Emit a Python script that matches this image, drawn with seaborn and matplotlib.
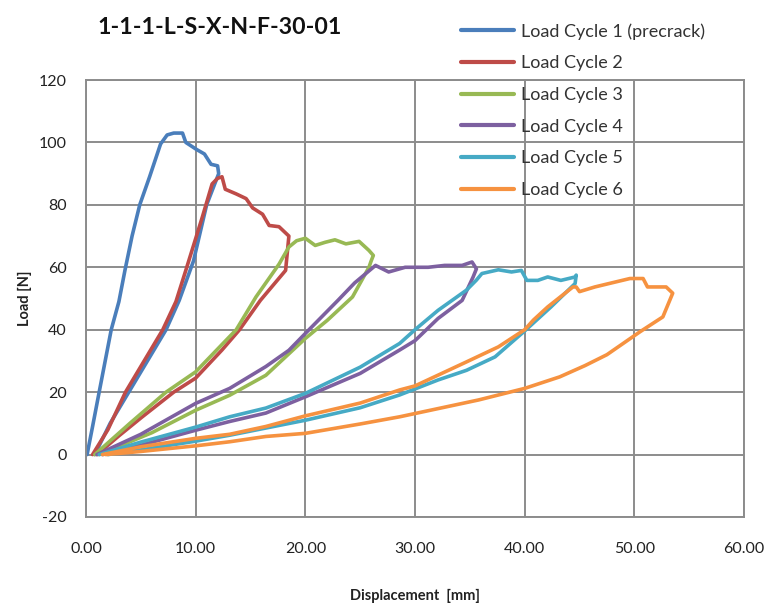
import matplotlib
matplotlib.use("Agg")
import matplotlib.pyplot as plt
import seaborn as sns
import pandas as pd

title = "1-1-1-L-S-X-N-F-30-01"
labels = ["Load Cycle 1 (precrack)", "Load Cycle 2", "Load Cycle 3",
          "Load Cycle 4", "Load Cycle 5", "Load Cycle 6"]
colors = ["#4A7EBB", "#BE4B48", "#98B954", "#7D60A0", "#46AAC5", "#F69240"]

c1_x = [0.1, 0.6, 1.2, 2.3, 3.0, 3.55, 4.2, 4.9, 5.8, 6.8, 7.4, 8.0, 8.8, 9.1, 10.1, 10.8, 11.4, 12.0,
        12.1, 11.0, 9.8, 8.5, 7.3, 5.6, 3.9, 2.2, 0.8]
c1_y = [0, 9, 20, 40, 49, 59, 70, 80, 89, 99.5, 102.4, 103, 103, 100, 97.7, 96.3, 93, 92.5,
        90, 80, 62, 49.4, 40, 30, 20, 10, 0]

c2_x = [0.6, 2.0, 3.6, 5.3, 7.0, 8.2, 9.1, 10.6, 11.5, 12.0, 12.4, 12.7, 13.7, 14.6, 15.2, 16.1, 16.7,
        17.6, 18.5, 18.2, 15.9, 14.0, 12.4, 10.0, 8.0, 5.1, 3.0, 1.0]
c2_y = [0, 8, 20, 30, 40, 49, 59, 76, 86.7, 88.5, 89, 85, 83.5, 82, 79, 77, 73.4,
        73, 70, 59, 49.4, 40, 33.5, 24.5, 20, 12, 6, 0]

c3_x = [0.8, 4.0, 7.3, 10.0, 13.7, 15.5, 17.6, 18.5, 19.2, 20.0, 20.9, 21.8, 22.7, 23.7, 24.9, 25.8,
        26.2, 26.0, 25.8, 24.3, 22.0, 20.0, 16.4, 13.1, 10.0, 6.0, 1.2]
c3_y = [0, 10, 20, 26.5, 40, 50.5, 61, 66.5, 68.5, 69.3, 67, 68, 68.8, 67.5, 68.3, 65.4,
        63.8, 62, 60, 50.5, 43, 37.2, 25.4, 19, 14.2, 7, 0]

c4_x = [1.0, 5.0, 10.0, 13.1, 16.4, 18.5, 20.0, 23.0, 24.5, 26.4, 27.6, 29.1, 31.2, 32.7, 34.3, 35.2,
        35.6, 35.3, 34.3, 32.1, 30.0, 28.6, 25.0, 20.0, 16.4, 13.1, 10.0, 5.0, 1.5]
c4_y = [0, 6.5, 16.4, 21.2, 28.2, 33.4, 38.8, 49.5, 55, 60.6, 58.5, 60, 60, 60.6, 60.6, 61.7,
        59.5, 56.9, 49.4, 43.6, 36.5, 33.5, 26, 18.5, 13.3, 10.6, 7.8, 3, 0]

c5_x = [1.2, 5.0, 10.0, 13.1, 16.4, 20.0, 25.0, 28.6, 30.0, 32.1, 34.7, 35.6, 36.1, 37.6, 38.8, 39.7,
        40.2, 41.2, 42.1, 43.3, 44.6, 44.7, 44.6, 42.4, 40.0, 37.3, 34.7, 32.1, 28.6, 25.0, 20.0,
        16.4, 13.1, 10.0, 5.0, 2.0]
c5_y = [0, 4, 8.8, 12.1, 14.9, 19.6, 28, 35.6, 40, 46.2, 52.7, 55.9, 58, 59.2, 58.5, 59,
        55.8, 55.8, 56.9, 55.8, 56.9, 57.5, 54.8, 47.3, 39.6, 31.3, 27, 23.9, 19.1, 15, 11,
        8.5, 6.2, 4.3, 1.5, 0]

c6_x = [1.5, 5.0, 10.0, 13.1, 16.4, 20.0, 25.0, 28.6, 30.0, 34.7, 37.6, 40.0, 40.8, 42.1, 44.4, 44.7,
        45.0, 46.4, 47.7, 49.6, 50.8, 51.2, 52.9, 53.5, 52.6, 50.5, 47.5, 45.5, 43.2, 40.0, 35.8,
        31.4, 28.6, 25.0, 20.0, 16.4, 13.1, 10.0, 5.0, 1.8]
c6_y = [0, 2.5, 5.2, 6.5, 9.0, 12.4, 16.5, 20.7, 22, 29.7, 34.5, 40, 43.1, 47.3, 53.7, 53.7,
        52.2, 53.7, 54.8, 56.4, 56.4, 53.7, 53.7, 51.7, 44.1, 39.3, 32, 28.5, 24.9, 21.2, 17.5,
        14.2, 12.1, 9.8, 6.8, 5.8, 4.1, 2.8, 1.0, 0]

xs = [c1_x, c2_x, c3_x, c4_x, c5_x, c6_x]
ys = [c1_y, c2_y, c3_y, c4_y, c5_y, c6_y]

frames = []
for lab, x, y in zip(labels, xs, ys):
    frames.append(pd.DataFrame({"Displacement": x, "Load": y, "Cycle": lab}))
df = pd.concat(frames, ignore_index=True)

x_ticks = [0, 10, 20, 30, 40, 50, 60]
y_ticks = [-20, 0, 20, 40, 60, 80, 100, 120]

sns.set_theme(style="white")
plt.rcParams['font.family'] = ['Lato', 'DejaVu Sans']

fig = plt.figure(figsize=(7.69, 6.06), dpi=100)
ax = fig.add_axes([86/769, 1-517/606, (744-86)/769, (517-80)/606])

sns.lineplot(data=df, x="Displacement", y="Load", hue="Cycle", hue_order=labels,
             palette=colors, sort=False, estimator=None, units="Cycle",
             linewidth=2.6, ax=ax, legend=False)

ax.set_xlim(0, 60)
ax.set_ylim(-20, 120)
ax.set_xticks(x_ticks)
ax.set_xticklabels([f"{v:.2f}" for v in x_ticks])
ax.set_yticks(y_ticks)
ax.set_yticklabels([str(v) for v in y_ticks])
ax.grid(True, color="#8c8c8c", linewidth=1.4)
ax.set_axisbelow(True)
for s in ax.spines.values():
    s.set_color("#8c8c8c")
    s.set_linewidth(1.4)
ax.tick_params(axis="both", length=0, labelsize=11.5, colors="#222222")
ax.tick_params(axis="x", pad=18)
ax.tick_params(axis="y", pad=14)

ax.set_xlabel("Displacement  [mm]", fontsize=10.5, fontweight="bold", labelpad=24, color="#222222")
ax.set_ylabel("Load [N]", fontsize=10.5, fontweight="bold", labelpad=5, color="#222222")

fig.text(97/769, 1-27/606, title, fontsize=16.7, fontweight="bold", ha="left", va="center",
         color="#111111")

handles = [plt.Line2D([0], [0], color=c, linewidth=3) for c in colors]
fig.legend(handles, labels, loc="upper left", bbox_to_anchor=(461/769, 1-23/606),
           frameon=False, fontsize=13, handlelength=2.95, handletextpad=0.35,
           labelspacing=0.87, borderpad=0, borderaxespad=0, labelcolor="#333333")

fig.savefig("out.png", dpi=100, facecolor="white")
